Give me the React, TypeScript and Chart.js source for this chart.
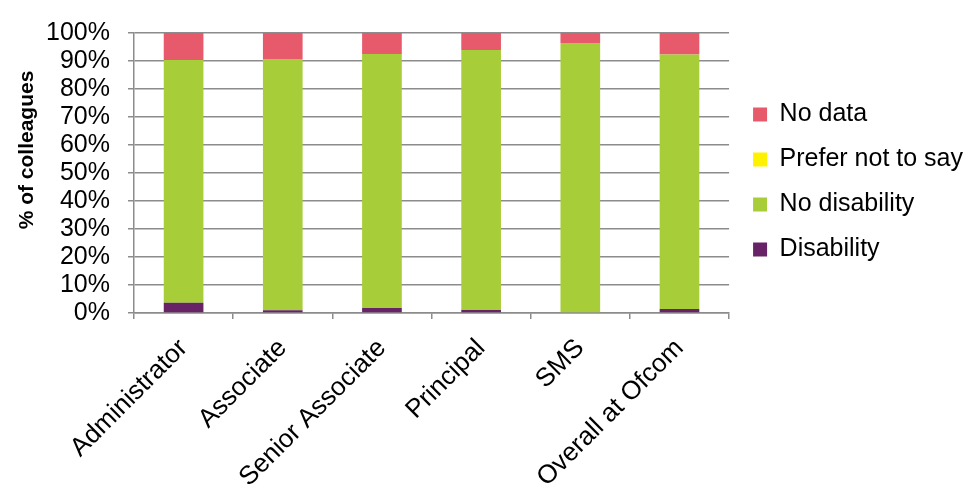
import React, { useEffect, useRef } from "react";
import { Chart, registerables } from "chart.js";

Chart.register(...registerables);

// Grades shown along the x axis
const categories = [
  "Administrator",
  "Associate",
  "Senior Associate",
  "Principal",
  "SMS",
  "Overall at Ofcom",
];

// Share of colleagues (%) per grade, stacked bottom to top
const disability = [3.7, 1.0, 1.8, 1.1, 0, 1.4];
const noDisability = [86.7, 89.7, 90.7, 92.8, 96.4, 90.9];
const preferNotToSay = [0, 0, 0, 0, 0, 0];
const noData = [9.6, 9.3, 7.5, 6.1, 3.6, 7.7];

const yTicks = [0, 10, 20, 30, 40, 50, 60, 70, 80, 90, 100];

const FONT = "'Liberation Sans', Arial, sans-serif";
const GRID = "#8c8c8c";

// Rotated y axis title
const yTitlePlugin = {
  id: "yTitle",
  afterDraw(chart: any) {
    const { ctx } = chart;
    ctx.save();
    ctx.translate(27, 150);
    ctx.rotate(-Math.PI / 2);
    ctx.font = `bold 21px ${FONT}`;
    ctx.fillStyle = "#000";
    ctx.textAlign = "center";
    ctx.textBaseline = "middle";
    ctx.fillText("% of colleagues", 0, 0);
    ctx.restore();
  },
};

export default function App() {
  const ref = useRef<HTMLCanvasElement | null>(null);

  useEffect(() => {
    if (!ref.current) return;
    const chart = new Chart(ref.current, {
      type: "bar",
      data: {
        labels: categories,
        datasets: [
          { label: "Disability", data: disability, backgroundColor: "#682367" },
          { label: "No disability", data: noDisability, backgroundColor: "#A7CE38" },
          { label: "Prefer not to say", data: preferNotToSay, backgroundColor: "#FFF200" },
          { label: "No data", data: noData, backgroundColor: "#E65A6B" },
        ],
      },
      options: {
        animation: false,
        responsive: false,
        maintainAspectRatio: false,
        layout: { padding: { top: 24, left: 0, right: 0, bottom: 0 } },
        datasets: {
          bar: { barPercentage: 0.4, categoryPercentage: 1 },
        },
        plugins: {
          tooltip: { enabled: false },
          legend: {
            position: "right",
            fullSize: false,
            reverse: true,
            title: { display: true, text: "", font: { size: 10, lineHeight: 1 }, padding: 4 },
            labels: {
              boxWidth: 14,
              boxHeight: 14,
              padding: 20,
              color: "#000",
              font: { family: FONT, size: 25 },
            },
          },
        },
        scales: {
          x: {
            stacked: true,
            grid: {
              display: true,
              offset: true,
              drawOnChartArea: false,
              drawTicks: true,
              tickLength: 6,
              color: GRID,
              lineWidth: 1.5,
            },
            border: { display: true, color: GRID, width: 1.5 },
            ticks: {
              autoSkip: false,
              maxRotation: 45,
              minRotation: 45,
              color: "#000",
              font: { family: FONT, size: 26 },
              padding: 14,
            },
            afterFit: (s: any) => {
              s.height = 171;
            },
          },
          y: {
            stacked: true,
            min: 0,
            max: 100,
            afterBuildTicks: (s: any) => {
              s.ticks = yTicks.map((v) => ({ value: v }));
            },
            grid: {
              color: GRID,
              lineWidth: 1.5,
              drawTicks: true,
              tickLength: 6,
            },
            border: { display: true, color: GRID, width: 1.5 },
            ticks: {
              autoSkip: false,
              color: "#000",
              font: { family: FONT, size: 25 },
              padding: 18,
              callback: (v: any) => `${v}%`,
            },
            afterFit: (s: any) => {
              s.width = 134;
            },
          },
          // hidden spacer between the plot and the legend
          gap: {
            position: "right",
            display: false,
            afterFit: (s: any) => {
              s.width = 4;
            },
          },
        },
      },
      plugins: [yTitlePlugin],
    } as any);
    return () => chart.destroy();
  }, []);

  return (
    <div style={{ position: "fixed", left: 0, top: 0, width: 973, height: 484, background: "#fff" }}>
      <canvas ref={ref} width={973} height={484} />
    </div>
  );
}
